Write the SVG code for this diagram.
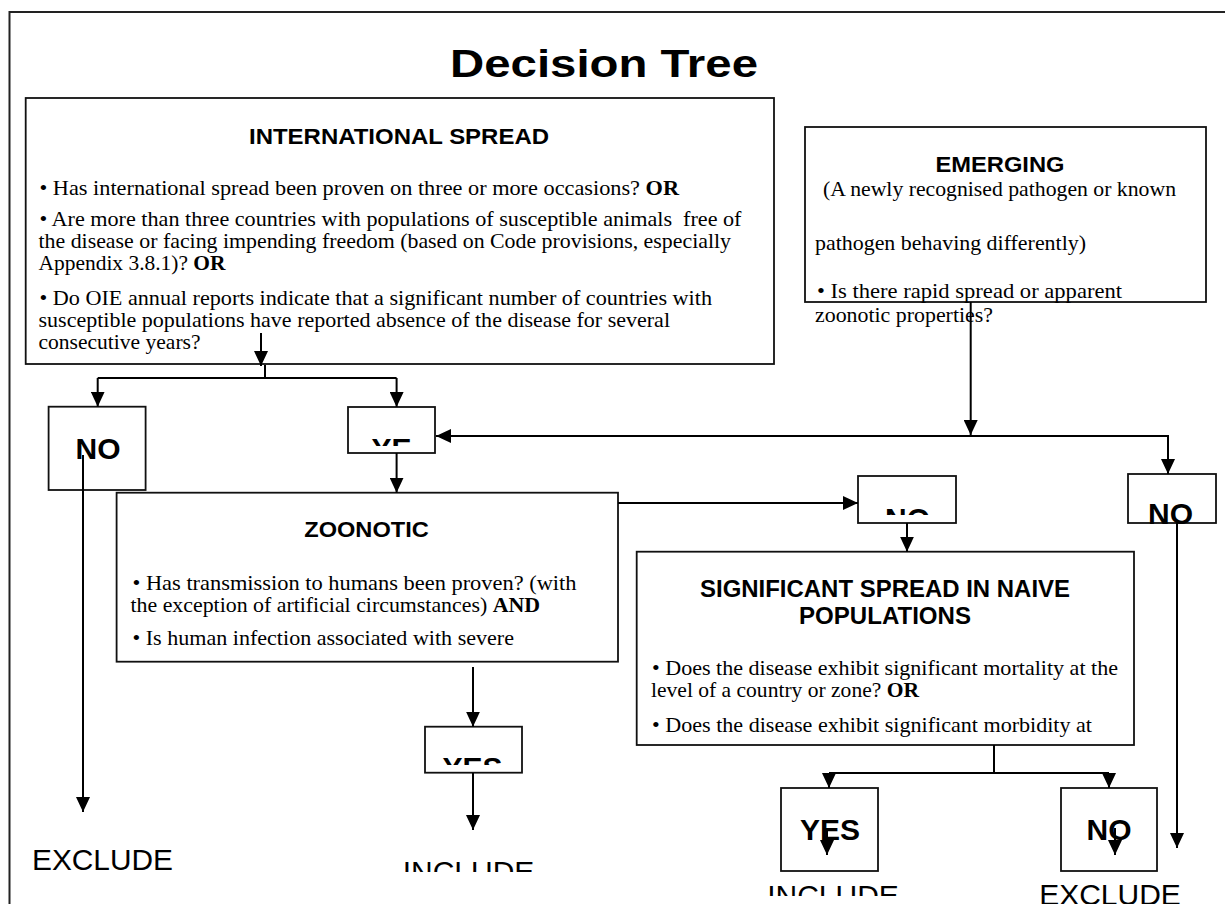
<svg xmlns="http://www.w3.org/2000/svg" width="1225" height="904" viewBox="0 0 1225 904">
<defs>
<style>
.box{fill:#fff;stroke:#111;stroke-width:1.8}
.hd{font-family:"Liberation Sans",Arial,sans-serif;font-weight:bold;fill:#000;text-anchor:middle}
.bd{font-family:"Liberation Serif","Times New Roman",serif;font-size:21.5px;fill:#000}
.big{font-family:"Liberation Sans",Arial,sans-serif;font-weight:bold;font-size:30px;fill:#000;text-anchor:middle}
.out{font-family:"Liberation Sans",Arial,sans-serif;font-size:30px;fill:#000;text-anchor:middle}
.con{fill:none;stroke:#000;stroke-width:2}
.arr{marker-end:url(#ah)}
</style>
<marker id="ah" markerUnits="userSpaceOnUse" markerWidth="16" markerHeight="14" refX="15" refY="7" orient="auto"><path d="M0,0 L15,7 L0,14 z" fill="#000"/></marker>
<clipPath id="cYE"><rect x="340" y="400" width="100" height="46"/></clipPath>
<clipPath id="cNOm"><rect x="850" y="470" width="110" height="45"/></clipPath>
<clipPath id="cYESz"><rect x="420" y="720" width="110" height="45"/></clipPath>
<clipPath id="cINCl"><rect x="390" y="840" width="160" height="32"/></clipPath>
<clipPath id="cINCr"><rect x="750" y="870" width="170" height="26"/></clipPath>
</defs>

<path d="M9.5,910 V12 H1230" fill="none" stroke="#222" stroke-width="2"/>
<text class="hd" x="604" y="77" font-size="38" textLength="308" lengthAdjust="spacingAndGlyphs">Decision Tree</text>

<g id="international-spread">
<rect class="box" x="25.7" y="98" width="748.3" height="266"/>
<text class="hd" x="399" y="144" font-size="22" textLength="300" lengthAdjust="spacingAndGlyphs">INTERNATIONAL SPREAD</text>
<text class="bd" x="39.5" y="195" textLength="639.5" lengthAdjust="spacingAndGlyphs">• Has international spread been proven on three or more occasions? <tspan font-weight="bold">OR</tspan></text>
<text class="bd" x="39.5" y="226" textLength="702" lengthAdjust="spacingAndGlyphs">• Are more than three countries with populations of susceptible animals&#160; free of</text>
<text class="bd" x="38.5" y="248" textLength="692.5" lengthAdjust="spacingAndGlyphs">the disease or facing impending freedom (based on Code provisions, especially</text>
<text class="bd" x="38.5" y="270" textLength="187" lengthAdjust="spacingAndGlyphs">Appendix 3.8.1)? <tspan font-weight="bold">OR</tspan></text>
<text class="bd" x="39.5" y="305" textLength="672.5" lengthAdjust="spacingAndGlyphs">• Do OIE annual reports indicate that a significant number of countries with</text>
<text class="bd" x="38.5" y="327" textLength="631.5" lengthAdjust="spacingAndGlyphs">susceptible populations have reported absence of the disease for several</text>
<text class="bd" x="38.5" y="349" textLength="162" lengthAdjust="spacingAndGlyphs">consecutive years?</text>
</g>

<g id="emerging">
<rect class="box" x="805" y="127" width="401" height="175"/>
<text class="hd" x="1000" y="172" font-size="22" textLength="129" lengthAdjust="spacingAndGlyphs">EMERGING</text>
<text class="bd" x="823" y="196" textLength="353" lengthAdjust="spacingAndGlyphs">(A newly recognised pathogen or known</text>
<text class="bd" x="815" y="250" textLength="271" lengthAdjust="spacingAndGlyphs">pathogen behaving differently)</text>
<text class="bd" x="817" y="298" textLength="305" lengthAdjust="spacingAndGlyphs">• Is there rapid spread or apparent</text>
<text class="bd" x="815" y="322" textLength="178" lengthAdjust="spacingAndGlyphs">zoonotic properties?</text>
</g>

<g id="no-1">
<rect class="box" x="48.6" y="406.7" width="97" height="83.3"/>
<text class="big" x="98" y="459">NO</text>
</g>

<g id="yes-1">
<rect class="box" x="348" y="407" width="87" height="46"/>
<text class="big" x="391.5" y="458.5" clip-path="url(#cYE)">YE</text>
</g>

<g id="zoonotic">
<rect class="box" x="116.6" y="492.7" width="501.4" height="169"/>
<text class="hd" x="366.5" y="537" font-size="22" textLength="124.5" lengthAdjust="spacingAndGlyphs">ZOONOTIC</text>
<text class="bd" x="132.5" y="590" textLength="444" lengthAdjust="spacingAndGlyphs">• Has transmission to humans been proven? (with</text>
<text class="bd" x="130.5" y="612" textLength="409.5" lengthAdjust="spacingAndGlyphs">the exception of artificial circumstances) <tspan font-weight="bold">AND</tspan></text>
<text class="bd" x="132.5" y="645" textLength="381.5" lengthAdjust="spacingAndGlyphs">• Is human infection associated with severe</text>
</g>

<g id="no-2">
<rect class="box" x="858" y="476" width="98" height="47"/>
<text class="big" x="907.5" y="528.5" clip-path="url(#cNOm)">NO</text>
</g>

<g id="no-3">
<rect class="box" x="1128" y="474" width="88" height="49"/>
<text class="big" x="1170.5" y="524">NO</text>
</g>

<g id="significant-spread">
<rect class="box" x="636.7" y="551.7" width="497.3" height="193.3"/>
<text class="hd" x="885" y="597" font-size="23" textLength="370" lengthAdjust="spacingAndGlyphs">SIGNIFICANT SPREAD IN NAIVE</text>
<text class="hd" x="885" y="624" font-size="23" textLength="172" lengthAdjust="spacingAndGlyphs">POPULATIONS</text>
<text class="bd" x="652" y="675" textLength="466" lengthAdjust="spacingAndGlyphs">• Does the disease exhibit significant mortality at the</text>
<text class="bd" x="651" y="697" textLength="268" lengthAdjust="spacingAndGlyphs">level of a country or zone? <tspan font-weight="bold">OR</tspan></text>
<text class="bd" x="652" y="732" textLength="440" lengthAdjust="spacingAndGlyphs">• Does the disease exhibit significant morbidity at</text>
</g>

<g id="yes-2">
<rect class="box" x="425" y="726.7" width="97" height="46"/>
<text class="big" x="472.5" y="777.5" clip-path="url(#cYESz)">YES</text>
</g>

<g id="yes-3">
<rect class="box" x="781" y="788" width="97" height="83"/>
<text class="big" x="830" y="840">YES</text>
</g>

<g id="no-4">
<rect class="box" x="1061" y="788" width="96" height="83"/>
<text class="big" x="1109" y="840">NO</text>
</g>

<g id="exclude-1"><text class="out" x="102.5" y="870" textLength="141" lengthAdjust="spacingAndGlyphs">EXCLUDE</text></g>
<g id="include-1"><text class="out" x="468.5" y="881.5" clip-path="url(#cINCl)">INCLUDE</text></g>
<g id="include-2"><text class="out" x="833" y="905.5" clip-path="url(#cINCr)">INCLUDE</text></g>
<g id="exclude-2"><text class="out" x="1110" y="904.5">EXCLUDE</text></g>

<g id="connectors" class="con">
<path class="arr" d="M261,333 V366"/>
<path d="M265,365 V378 M97.7,378 H396.6"/>
<path class="arr" d="M97.7,378 V406.7"/>
<path class="arr" d="M396.6,378 V407"/>
<path class="arr" d="M970.7,302 V435"/>
<path class="arr" d="M1168,436 H436"/>
<path class="arr" d="M1100,436 H1168 V474"/>
<path class="arr" d="M396.6,453 V492.7"/>
<path class="arr" d="M83,455 V812"/>
<path class="arr" d="M618,503 H858"/>
<path class="arr" d="M907,523 V551.7"/>
<path class="arr" d="M473,667 V726.7"/>
<path class="arr" d="M473,773 V830"/>
<path class="arr" d="M1177,523 V848"/>
<path d="M994,745 V773 M829,773 H1109"/>
<path class="arr" d="M829,773 V788"/>
<path class="arr" d="M1109,773 V788"/>
<path class="arr" d="M827,828 V855"/>
<path class="arr" d="M1115,828 V855"/>
</g>
</svg>
